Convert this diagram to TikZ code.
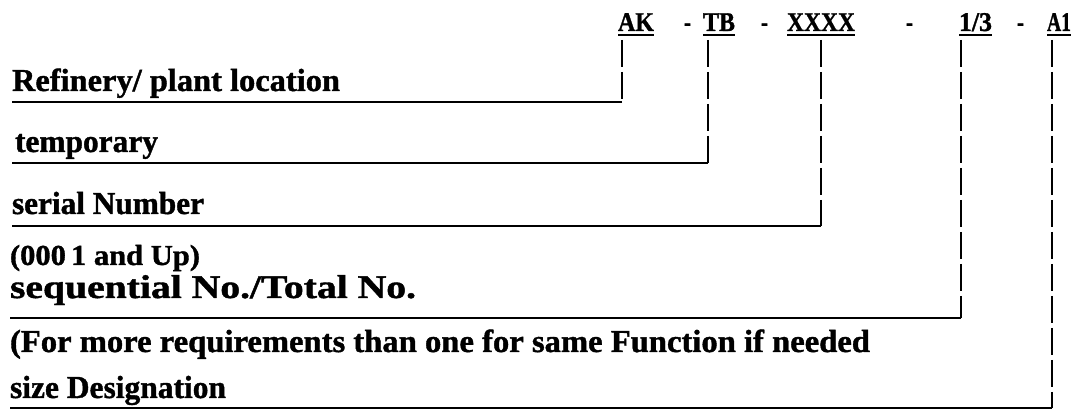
\documentclass[tikz,border=0pt]{standalone}
\usepackage{fontspec}
\setmainfont[BoldFeatures={FakeBold=1.2}]{Liberation Serif}
\usepackage{graphicx}
\newcommand{\fitw}[3]{\resizebox{#1}{\height}{\fontsize{#2}{#2}\selectfont\bfseries #3}}
\tikzset{
  txt/.style={anchor=base west, inner sep=0pt, outer sep=0pt},
  lead/.style={line width=2.6pt, dash pattern=on 27pt off 5pt},
  rule/.style={line width=2.4pt},
  uline/.style={line width=1.8pt}
}
\begin{document}
\begin{tikzpicture}[x=1pt,y=-1pt]
\useasboundingbox[fill=white] (0,0) rectangle (1082,411);
% top code labels
\node[txt] (ak) at (618,31) {\fitw{36pt}{27}{AK}};
\node[txt] (h1) at (684,31) {\fitw{7pt}{27}{-}};
\node[txt] (tb) at (703,31) {\fitw{32pt}{27}{TB}};
\node[txt] (h2) at (761,31) {\fitw{7pt}{27}{-}};
\node[txt] (xx) at (787,31) {\fitw{68pt}{27}{XXXX}};
\node[txt] (h3) at (906,31) {\fitw{7pt}{27}{-}};
\node[txt] (sq) at (959,31) {\fitw{33pt}{27}{1/3}};
\node[txt] (h4) at (1017,31) {\fitw{7pt}{27}{-}};
\node[txt] (a1) at (1047,31) {\fitw{24pt}{27}{A1}};
\foreach \n in {ak,tb,xx,sq,a1}
  \draw[uline] ([yshift=-4pt]\n.base west) -- ([yshift=-4pt]\n.base east);
% descriptions
\node[txt] (ref) at (12,91) {\fitw{328pt}{32}{Refinery/ plant location}};
\node[txt] (tmp) at (15,152) {\fitw{143pt}{32}{temporary}};
\node[txt] (ser) at (12,214) {\fitw{192pt}{32}{serial Number}};
\node[txt] (up) at (10,265) {\fitw{190pt}{29}{(000\,1 and Up)}};
\node[txt] (seq) at (10,298) {\fitw{406pt}{33}{sequential No./Total No.}};
\node[txt] (more) at (10,352) {\fitw{860pt}{32}{(For more requirements than one for same Function if needed}};
\node[txt] (siz) at (10,398) {\fitw{216pt}{32}{size Designation}};
% leaders
\draw[lead] ([xshift=4pt,yshift=-9pt]ak.base west) -- ++(0,62) coordinate (c1);
\draw[rule] (c1) -- (c1 -| ref.west);
\draw[lead] ([xshift=5pt,yshift=-9pt]tb.base west) -- ++(0,123) coordinate (c2);
\draw[rule] (c2) -- (c2 -| ref.west);
\draw[lead] ([yshift=-9pt]xx.base) -- ++(0,186) coordinate (c3);
\draw[rule] (c3) -- (c3 -| ref.west);
\draw[lead] ([xshift=2pt,yshift=-9pt]sq.base west) -- ++(0,278) coordinate (c4);
\draw[rule] (c4) -- (c4 -| seq.west);
\draw[lead] ([xshift=5pt,yshift=-9pt]a1.base west) -- ++(0,368) coordinate (c5);
\draw[rule] (c5) -- (c5 -| siz.west);
\end{tikzpicture}
\end{document}
